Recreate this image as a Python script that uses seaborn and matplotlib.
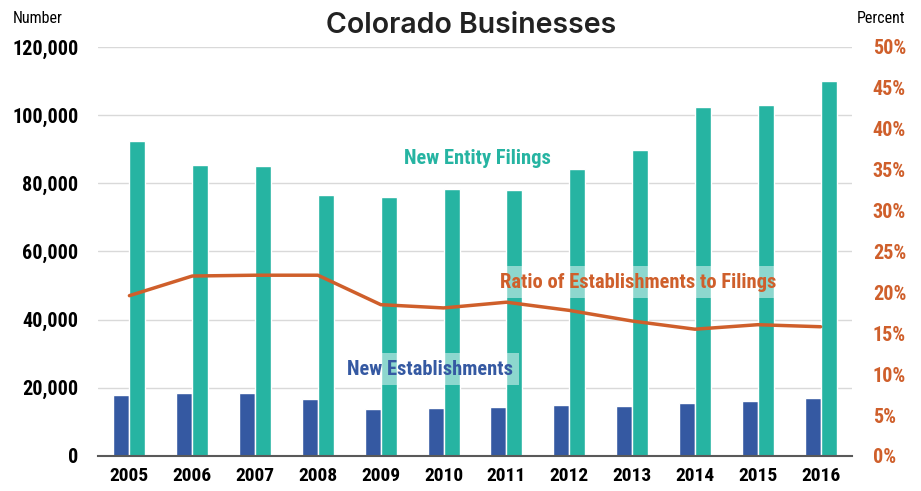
import numpy as np
import pandas as pd
import matplotlib.pyplot as plt
import seaborn as sns
from matplotlib.ticker import FuncFormatter

# data
years = ["2005", "2006", "2007", "2008", "2009", "2010",
         "2011", "2012", "2013", "2014", "2015", "2016"]
new_establishments = [17900, 18450, 18450, 16600, 13800, 14000,
                      14400, 14900, 14700, 15650, 16200, 17000]
new_filings = [92400, 85400, 85100, 76600, 76000, 78300,
               78100, 84200, 89800, 102400, 103000, 110000]
ratio_pct = [19.6, 22.0, 22.1, 22.1, 18.5, 18.1,
             18.8, 17.8, 16.5, 15.5, 16.05, 15.8]

blue = "#3559a2"
teal = "#26b4a2"
orange = "#cf5f2b"

sns.set_style("white")
narrow = ["Roboto Condensed", "Liberation Sans", "DejaVu Sans"]
plt.rcParams["font.family"] = narrow

df = pd.DataFrame({
    "year": years * 2,
    "value": new_establishments + new_filings,
    "series": ["New Establishments"] * len(years) + ["New Entity Filings"] * len(years),
})

fig = plt.figure(figsize=(9.21, 4.91), dpi=100)
ax = fig.add_axes([0.1064, 0.0713, 0.8187, 0.8330])

sns.barplot(data=df, x="year", y="value", hue="series", order=years,
            palette=[blue, teal], width=0.51, saturation=1, legend=False, ax=ax)

ax.set_ylim(0, 120000)
ax.set_xlim(-0.5, len(years) - 0.5)
ax.set_yticks(np.arange(0, 120001, 20000))
ax.yaxis.set_major_formatter(FuncFormatter(lambda v, p: f"{int(v):,}"))
ax.grid(axis="y", color="#d9d9d9", linewidth=1)
ax.set_axisbelow(True)
for s in ["top", "left", "right"]:
    ax.spines[s].set_visible(False)
ax.spines["bottom"].set_color("#595959")
ax.spines["bottom"].set_linewidth(1.5)
ax.set_xlabel("")
ax.set_ylabel("")
ax.tick_params(axis="y", length=0, pad=14, labelsize=14.5)
ax.tick_params(axis="x", length=0, pad=8, labelsize=14)
for t in ax.get_yticklabels() + ax.get_xticklabels():
    t.set_fontweight("bold")
    t.set_color("black")

ax2 = ax.twinx()
sns.lineplot(x=np.arange(len(years)), y=ratio_pct, color=orange, linewidth=2.5, ax=ax2)
ax2.set_ylim(0, 50)
ax2.set_yticks(np.arange(0, 51, 5))
ax2.yaxis.set_major_formatter(FuncFormatter(lambda v, p: f"{int(v)}%"))
ax2.tick_params(axis="y", length=0, pad=15, labelsize=14.5, labelcolor=orange)
for t in ax2.get_yticklabels():
    t.set_fontweight("bold")
for s in ax2.spines.values():
    s.set_visible(False)
ax2.grid(False)

box = dict(boxstyle="square,pad=0.3", facecolor="white", edgecolor="none", alpha=0.48)
ax.text(5.54, 87400, "New Entity Filings", color=teal, fontsize=14.8, fontweight="bold",
        ha="center", va="center")
ax.text(8.09, 51000, "Ratio of Establishments to Filings", color=orange, fontsize=14.8,
        fontweight="bold", ha="center", va="center", bbox=box, zorder=5)
ax.text(4.78, 25500, "New Establishments", color=blue, fontsize=14.8, fontweight="bold",
        ha="center", va="center", bbox=box, zorder=5)

fig.text(0.511, 0.949, "Colorado Businesses", family=["Inter", "DejaVu Sans"],
         fontsize=20.5, fontweight="semibold", color="#222222", ha="center", va="center")
fig.text(0.014, 0.962, "Number", fontsize=11.5, color="black", ha="left", va="center")
fig.text(0.983, 0.962, "Percent", fontsize=11.5, color="black", ha="right", va="center")

fig.savefig("out.png", dpi=100)
